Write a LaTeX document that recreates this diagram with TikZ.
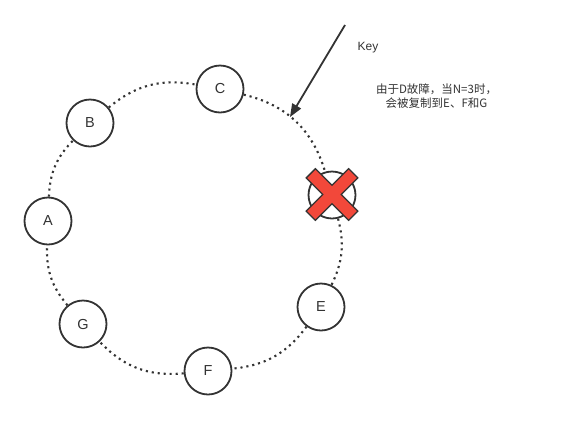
\documentclass[tikz,border=0pt]{standalone}
\usepackage{fontspec}
\setmainfont{Liberation Sans}
\newfontfamily\cjk{Noto Sans CJK SC}
\usetikzlibrary{arrows.meta}
\definecolor{ink}{RGB}{51,51,51}
\definecolor{xred}{RGB}{242,72,58}
\tikzset{
  ringnode/.style={circle,draw=ink,line width=1.8pt,fill=white,minimum size=47pt,inner sep=0pt,font=\fontsize{14.5}{16}\selectfont,text=ink},
  ringlink/.style={draw=ink,line width=2.1pt,dash pattern=on 2.1pt off 3.9pt},
  keyarrow/.style={draw=ink,line width=1.8pt,-{Triangle[length=13pt,width=10pt]}},
  lbl/.style={text=ink,inner sep=0pt}
}
\begin{document}
\begin{tikzpicture}[x=1pt,y=-1pt]
\useasboundingbox (0,0) rectangle (569,421);
\node[ringnode] (A) at (48,221) {A};
\node[ringnode] (B) at (90,123) {B};
\node[ringnode] (C) at (220,89) {C};
\node[ringnode] (D) at (332,195) {};
\node[ringnode] (E) at (321,307) {E};
\node[ringnode] (F) at (208,371) {F};
\node[ringnode] (G) at (83,324) {G};
\path[ringlink] (A) to[bend left=21] (B);
\path[ringlink] (B) to[bend left=25] (C);
\path[ringlink] (C) to[bend left=30] (D);
\path[ringlink] (D) to[bend left=20] (E);
\path[ringlink] (E) to[bend left=24] (F);
\path[ringlink] (F) to[bend left=26] (G);
\path[ringlink] (G) to[bend left=21] (A);
% cross over D
\begin{scope}[shift={(332,194.5)},rotate=45]
\filldraw[fill=xred,draw=ink,line width=1.3pt,line join=miter]
  (6.5,30) -- (6.5,6.5) -- (30,6.5) -- (30,-6.5) -- (6.5,-6.5) -- (6.5,-30)
  -- (-6.5,-30) -- (-6.5,-6.5) -- (-30,-6.5) -- (-30,6.5) -- (-6.5,6.5) -- (-6.5,30) -- cycle;
\end{scope}
\coordinate (kstart) at (345,25);
\coordinate (kend) at (290,117);
\draw[keyarrow] (kstart) -- (kend);
\node[lbl,font=\fontsize{12}{14}\selectfont] (key) at (368,47.5) {Key};
\node[lbl,font=\cjk\fontsize{11.5}{14.5}\selectfont,align=center] (note) at (436.5,96) {由于D故障，当N=3时，\\会被复制到E、F和G};
\end{tikzpicture}
\end{document}
